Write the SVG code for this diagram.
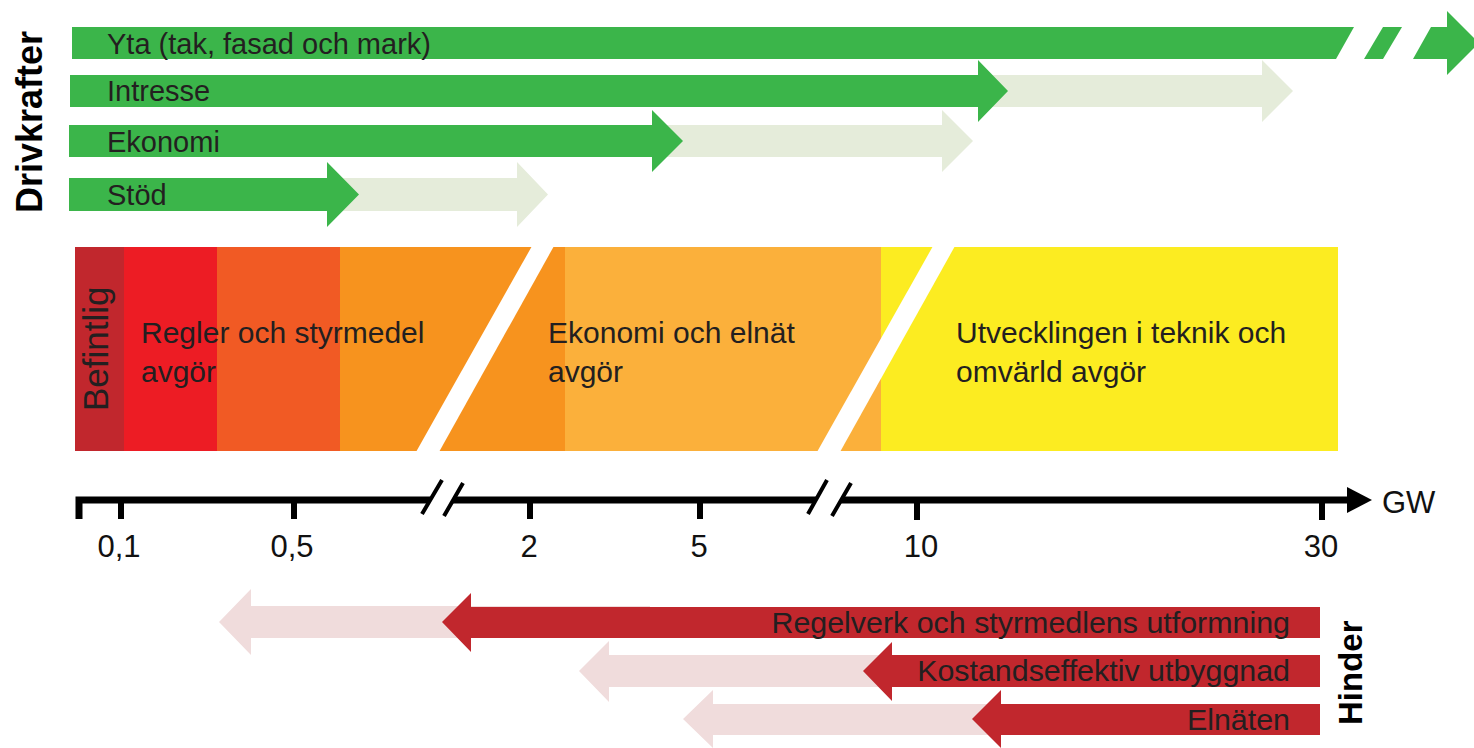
<svg xmlns="http://www.w3.org/2000/svg" width="1474" height="748" viewBox="0 0 1474 748">
<style>
.t{font-family:"Liberation Sans",Arial,sans-serif;fill:#231f20}
.g{fill:#3bb54a}
.gl{fill:#e5ecda}
.r{fill:#c1272d}
.rl{fill:#f0dcdc}
.ax{font-family:"Liberation Sans",Arial,sans-serif;font-size:31px;fill:#111;text-anchor:middle}
.b{font-family:"Liberation Sans",Arial,sans-serif;font-weight:bold;fill:#000}
</style>
<rect width="1474" height="748" fill="#fff"/>
<text class="b" font-size="36" transform="translate(42,213) rotate(-90)">Drivkrafter</text>
<g id="yta">
<polygon class="g" points="72,27 1354,27 1336,59 72,59"/>
<polygon class="g" points="1383,27 1402,27 1383,59 1364,59"/>
<polygon class="g" points="1431,27 1447,27 1447,11 1479,43 1447,75 1447,59 1413,59"/>
<text class="t" font-size="29" x="107" y="54">Yta (tak, fasad och mark)</text>
</g>
<g id="intresse">
<polygon class="gl" points="975,75 1262,75 1262,60 1293,91 1262,122 1262,107 975,107"/>
<polygon class="g" points="70,75 978,75 978,60 1008,91 978,122 978,107 70,107"/>
<text class="t" font-size="29" x="107" y="101">Intresse</text>
</g>
<g id="ekonomi">
<polygon class="gl" points="650,125 942,125 942,110 973,141 942,172 942,157 650,157"/>
<polygon class="g" points="69,125 652,125 652,110 683,141 652,172 652,157 69,157"/>
<text class="t" font-size="29" x="107" y="152">Ekonomi</text>
</g>
<g id="stod">
<polygon class="gl" points="325,178 517,178 517,162 548,194.5 517,227 517,211 325,211"/>
<polygon class="g" points="69,178 327,178 327,162 359,194.5 327,227 327,211 69,211"/>
<text class="t" font-size="29" x="107" y="205">Stöd</text>
</g>
<g id="band">
<rect x="75" y="247" width="49" height="204" fill="#c1272d"/>
<rect x="124" y="247" width="93" height="204" fill="#ed1c24"/>
<rect x="217" y="247" width="123" height="204" fill="#f15a24"/>
<rect x="340" y="247" width="225" height="204" fill="#f7931e"/>
<rect x="565" y="247" width="316" height="204" fill="#fbb03b"/>
<rect x="881" y="247" width="457" height="204" fill="#fcec21"/>
<polygon fill="#fff" points="532,246 554,246 439,452 416,452"/>
<polygon fill="#fff" points="933,246 955,246 840,452 817,452"/>
<text class="t" font-size="35" transform="translate(108,411) rotate(-90)">Befintlig</text>
<text class="t" font-size="30"><tspan x="141" y="343">Regler och styrmedel</tspan><tspan x="141" y="382">avgör</tspan></text>
<text class="t" font-size="30"><tspan x="548" y="343">Ekonomi och elnät</tspan><tspan x="548" y="382">avgör</tspan></text>
<text class="t" font-size="30"><tspan x="956" y="343">Utvecklingen i teknik och</tspan><tspan x="956" y="382">omvärld avgör</tspan></text>
</g>
<g id="axis" stroke="#000" fill="none">
<path d="M79,519 V500 H430 M453,500 H816 M841,500 H1350" stroke-width="7"/>
<path d="M121,500 V519 M294,500 V519 M530,500 V519 M700,500 V519 M917,500 V520 M1322,500 V520" stroke-width="6"/>
<path d="M442,480 L422,514 M463,483 L444,516 M827,480 L808,514 M851,483 L832,516" stroke-width="4"/>
<polygon points="1347,487 1372,500 1347,513" fill="#000" stroke="none"/>
</g>
<g id="axis-labels">
<text class="ax" x="119" y="557">0,1</text>
<text class="ax" x="292" y="557">0,5</text>
<text class="ax" x="529" y="557">2</text>
<text class="ax" x="699" y="557">5</text>
<text class="ax" x="921" y="557">10</text>
<text class="ax" x="1321" y="557">30</text>
<text class="ax" x="1382" y="513" style="text-anchor:start">GW</text>
</g>
<g id="regelverk">
<polygon class="rl" points="219,622 251,589 251,606 650,606 650,638 251,638 251,655"/>
<polygon class="r" points="442,622 471,593 471,607 1320,607 1320,638 471,638 471,652"/>
<text class="t" font-size="30.4" x="1290" y="633" text-anchor="end">Regelverk och styrmedlens utformning</text>
</g>
<g id="kostand">
<polygon class="rl" points="579,671 609,641 609,655 900,655 900,687 609,687 609,702"/>
<polygon class="r" points="863,671 892,642 892,655 1320,655 1320,687 892,687 892,701"/>
<text class="t" font-size="30.4" x="1290" y="681" text-anchor="end">Kostandseffektiv utbyggnad</text>
</g>
<g id="elnaten">
<polygon class="rl" points="683,719 713,690 713,704 1010,704 1010,735 713,735 713,748"/>
<polygon class="r" points="972,719 1001,690 1001,704 1320,704 1320,735 1001,735 1001,748"/>
<text class="t" font-size="30.4" x="1290" y="730" text-anchor="end">Elnäten</text>
</g>
<text class="b" font-size="33" transform="translate(1362,725) rotate(-90)">Hinder</text>
</svg>
